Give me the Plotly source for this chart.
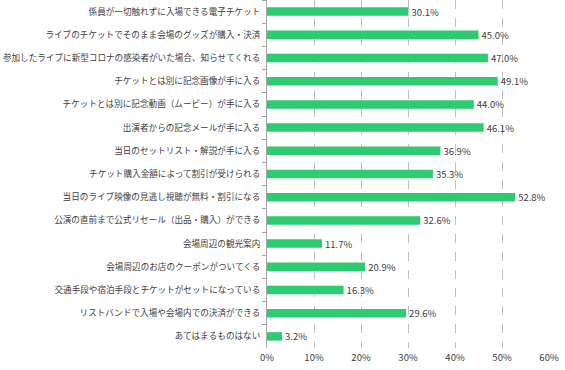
import plotly.graph_objects as go

categories = [
    "係員が一切触れずに入場できる電子チケット",
    "ライブのチケットでそのまま会場のグッズが購入・決済",
    "参加したライブに新型コロナの感染者がいた場合、知らせてくれる",
    "チケットとは別に記念画像が手に入る",
    "チケットとは別に記念動画（ムービー）が手に入る",
    "出演者からの記念メールが手に入る",
    "当日のセットリスト・解説が手に入る",
    "チケット購入金額によって割引が受けられる",
    "当日のライブ映像の見逃し視聴が無料・割引になる",
    "公演の直前まで公式リセール（出品・購入）ができる",
    "会場周辺の観光案内",
    "会場周辺のお店のクーポンがついてくる",
    "交通手段や宿泊手段とチケットがセットになっている",
    "リストバンドで入場や会場内での決済ができる",
    "あてはまるものはない",
]
values = [30.1, 45.0, 47.0, 49.1, 44.0, 46.1, 36.9, 35.3, 52.8, 32.6, 11.7, 20.9, 16.3, 29.6, 3.2]
tick_vals = [0, 10, 20, 30, 40, 50, 60]
tick_text = ["0%", "10%", "20%", "30%", "40%", "50%", "60%"]

font_family = "Noto Sans CJK JP"

fig = go.Figure(go.Bar(
    x=values,
    y=categories,
    orientation="h",
    marker=dict(color="#2ECC71", line=dict(width=0)),
    text=[f"{v:.1f}%" for v in values],
    textposition="outside",
    constraintext="none",
    textfont=dict(size=9.5, color="#404040", family=font_family),
    cliponaxis=False,
))

fig.update_layout(
    width=565, height=370,
    margin=dict(l=267, r=16, t=0, b=22),
    paper_bgcolor="white", plot_bgcolor="white",
    bargap=0.635,
    showlegend=False,
    font=dict(family=font_family, size=9, color="#404040"),
)
fig.update_xaxes(
    range=[0, 60],
    tickvals=tick_vals, ticktext=tick_text,
    showgrid=True, gridcolor="#BFBFBF", griddash="dash", gridwidth=1,
    zeroline=False, showline=False,
    tickfont=dict(size=9.5, color="#404040"),
    ticks="", ticklabelstandoff=2,
    automargin=False,
)
fig.update_yaxes(
    autorange="reversed",
    showline=True, linecolor="#A6A6A6", linewidth=1,
    ticks="outside", tickson="boundaries", ticklen=4, tickcolor="#A6A6A6",
    showgrid=False,
    tickfont=dict(size=8.6, color="#404040"),
    ticklabelstandoff=4,
    automargin=False,
)

fig.write_html(
    "out.html",
    config={"displayModeBar": False},
    post_script="document.body.style.margin='0';document.body.style.overflow='hidden';",
)
